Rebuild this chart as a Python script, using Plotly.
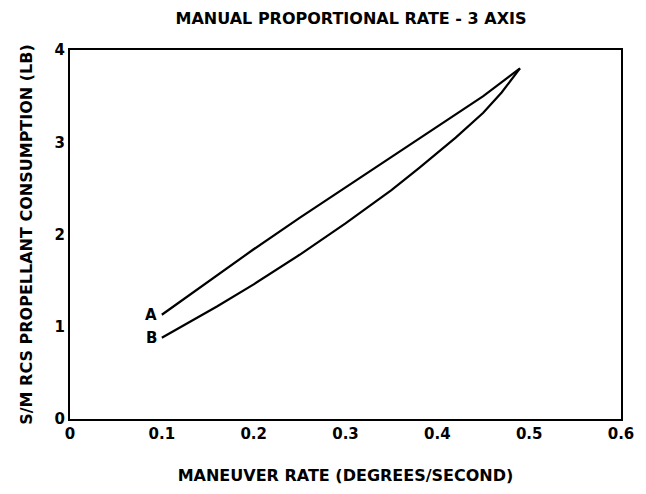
import plotly.graph_objects as go

# Curve A (upper) and curve B (lower)
a_x = [0.10, 0.15, 0.20, 0.25, 0.30, 0.35, 0.40, 0.45, 0.49]
a_y = [1.13, 1.49, 1.84, 2.18, 2.51, 2.84, 3.17, 3.50, 3.80]
b_x = [0.10, 0.16, 0.20, 0.25, 0.30, 0.35, 0.38, 0.42, 0.45, 0.47, 0.49]
b_y = [0.88, 1.22, 1.46, 1.78, 2.12, 2.48, 2.72, 3.05, 3.32, 3.54, 3.80]
x_ticks = [0, 0.1, 0.2, 0.3, 0.4, 0.5, 0.6]
x_tick_text = ["0", "0.1", "0.2", "0.3", "0.4", "0.5", "0.6"]
y_ticks = [0, 1, 2, 3, 4]
curve_labels = ["A", "B"]

FONT = "DejaVu Sans, Arial"

fig = go.Figure()
fig.add_trace(go.Scatter(x=a_x, y=a_y, mode="lines", line=dict(color="black", width=2.2),
                         showlegend=False, hoverinfo="skip"))
fig.add_trace(go.Scatter(x=b_x, y=b_y, mode="lines", line=dict(color="black", width=2.2),
                         showlegend=False, hoverinfo="skip"))

for lbl, xs, ys in [(curve_labels[0], a_x, a_y), (curve_labels[1], b_x, b_y)]:
    fig.add_annotation(x=xs[0], y=ys[0], text="<b>" + lbl + "</b>", showarrow=False,
                       xanchor="right", yanchor="middle", xshift=-3,
                       font=dict(family=FONT, size=15, color="black"))

fig.update_layout(
    width=646, height=494,
    margin=dict(l=70, r=12, t=50, b=74),
    paper_bgcolor="white", plot_bgcolor="white",
    title=dict(text="<b>MANUAL PROPORTIONAL RATE - 3 AXIS</b>", x=351 / 646, xanchor="center",
               y=1 - 18 / 494, yanchor="middle",
               font=dict(family=FONT, size=16, color="black")),
    xaxis=dict(range=[0, 0.6], tickvals=x_ticks, ticktext=["<b>" + t + "</b>" for t in x_tick_text],
               showgrid=False, zeroline=False, showline=True, linecolor="black", linewidth=2,
               mirror=True, ticks="", tickfont=dict(family=FONT, size=15, color="black"),
               title=dict(text="<b>MANEUVER RATE (DEGREES/SECOND)</b>", standoff=28,
                          font=dict(family=FONT, size=16, color="black"))),
    yaxis=dict(range=[0, 4], tickvals=y_ticks, ticktext=["<b>%d</b>" % v for v in y_ticks],
               showgrid=False, zeroline=False, showline=True, linecolor="black", linewidth=2,
               mirror=True, ticks="", tickfont=dict(family=FONT, size=15, color="black"),
               title=dict(text="<b>S/M RCS PROPELLANT CONSUMPTION (LB)</b>", standoff=18,
                          font=dict(family=FONT, size=16, color="black"))),
)

fig.write_html("out.html")
